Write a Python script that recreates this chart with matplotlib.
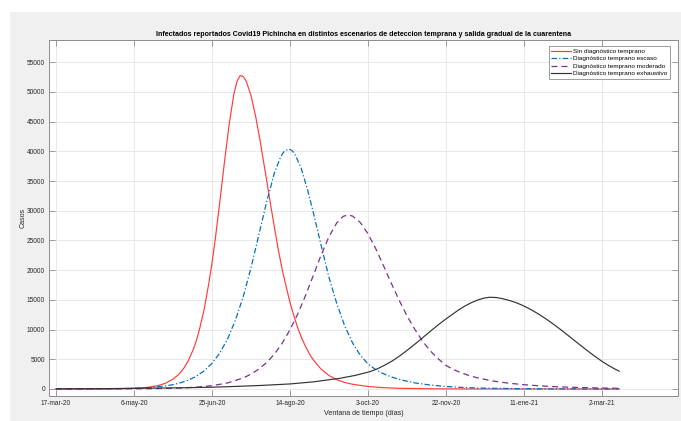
import matplotlib
matplotlib.use("Agg")
import matplotlib.pyplot as plt
from matplotlib.patches import Rectangle

# ---------------- data (days since 17-mar-20) ----------------
red_days = [0, 20, 40, 50, 55, 60, 65, 70, 75, 78, 80, 82, 85, 88, 90, 92, 95, 98, 100, 102, 105, 108, 111,
            114, 116, 118, 120, 122, 125, 128, 131, 135, 137.5, 140, 142.5, 145, 147.5, 150, 152.5, 155,
            157.5, 160, 162.5, 165, 170, 175, 180, 185, 190, 200, 210, 220, 240, 260, 300, 361]
red_vals = [0, 4, 34, 104, 182, 318, 554, 950, 1655, 2295, 2850, 3535, 4870, 6665, 8190, 10080, 13470, 17860,
            21250, 25050, 31500, 38240, 44600, 49630, 51790, 52760, 52610, 51780, 49380, 45850, 41520, 35140,
            31120, 27200, 23450, 20090, 17240, 14560, 12300, 10240, 8560, 7120, 5900, 4870, 3320, 2270, 1550,
            1110, 800, 420, 220, 120, 35, 10, 1, 0]

blue_days = [0, 40, 50, 60, 70, 75, 80, 85, 90, 95, 100, 105, 110, 115, 120, 125, 130, 135, 140, 144, 146,
             149, 151, 153, 157, 161, 165, 170, 175, 180, 185, 190, 195, 200, 205, 210, 215, 220, 225, 230,
             240, 250, 260, 270, 280, 300, 320, 340, 361]
blue_vals = [5, 58, 121, 250, 516, 730, 1056, 1507, 2155, 3063, 4330, 6060, 8440, 11590, 15540, 20420, 25930,
             31490, 36370, 39090, 39920, 40400, 40200, 39590, 37270, 33780, 29640, 24100, 18750, 14350, 10660,
             7790, 5700, 4200, 3250, 2550, 2030, 1620, 1300, 1030, 660, 420, 270, 170, 110, 45, 18, 8, 3]

purple_days = [0, 30, 60, 80, 90, 100, 110, 120, 125, 130, 135, 140, 145, 150, 155, 160, 165, 170, 175, 180,
               184, 187, 190, 195, 200, 205, 210, 215, 220, 225, 230, 235, 240, 245, 250, 255, 260, 265, 270,
               280, 290, 300, 310, 320, 330, 340, 350, 361]
purple_vals = [3, 12, 48, 166, 306, 557, 1020, 1850, 2500, 3350, 4450, 5860, 7710, 9990, 12650, 15780, 19160,
               22580, 25670, 27980, 29050, 29300, 29120, 28040, 26130, 23590, 20720, 17750, 14920, 12310,
               10040, 8040, 6390, 5090, 3960, 3250, 2700, 2250, 1880, 1350, 980, 720, 530, 390, 290, 210, 155,
               115]

black_days = [0, 40, 80, 100, 112, 130, 150, 165, 182, 192, 201, 206, 211, 216, 221, 226, 231, 236, 241, 246,
              250, 254, 258, 262, 266, 270, 274, 278, 282, 286, 290, 294, 298, 302, 306, 310, 314, 318, 322,
              326, 330, 334, 338, 342, 346, 350, 354, 358, 361]
black_vals = [20, 80, 200, 300, 400, 580, 850, 1200, 1800, 2300, 2900, 3400, 4050, 4800, 5700, 6700, 7750,
              8850, 9950, 11000, 11800, 12550, 13300, 13950, 14500, 14950, 15280, 15440, 15400, 15220, 14950,
              14620, 14200, 13700, 13130, 12500, 11810, 11070, 10290, 9480, 8650, 7810, 6980, 6170, 5390, 4650,
              3990, 3390, 3000]

series_labels = ["Sin diagnóstico temprano", "Diagnóstico temprano escaso",
                 "Diagnóstico temprano moderado", "Diagnóstico temprano exhaustivo"]

xtick_days = [0, 50, 100, 150, 200, 250, 300, 350]
xtick_labels = ["17-mar-20", "6-may-20", "25-jun-20", "14-ago-20", "3-oct-20",
                "22-nov-20", "11-ene-21", "2-mar-21"]
ytick_vals = [0, 5000, 10000, 15000, 20000, 25000, 30000, 35000, 40000, 45000, 50000, 55000]

title = ("Infectados reportados Covid19 Pichincha en distintos escenarios de deteccion "
         "temprana y salida gradual de la cuarentena")

# ---------------- figure ----------------
plt.rcParams["font.family"] = ["Liberation Sans", "DejaVu Sans"]
plt.rcParams["lines.scale_dashes"] = False

W, H = 681, 421
fig = plt.figure(figsize=(W / 100, H / 100), dpi=100, facecolor="white")
fig.patches.append(Rectangle((10 / W, 0), 1 - 10 / W, 1 - 12 / H, transform=fig.transFigure,
                             facecolor="#f0f0f0", edgecolor="none", zorder=-10))

left, right, top, bottom = 49.3 / W, 677.7 / W, 1 - 40 / H, 1 - 396 / H
ax = fig.add_axes([left, bottom, right - left, top - bottom])
ax.set_facecolor("white")

ax.plot(red_days, red_vals, color="#ff3b3b", lw=0.85, label=series_labels[0], zorder=3)
ax.plot(blue_days, blue_vals, color="#0072BD", lw=0.9, dashes=(4.0, 1.6, 0.9, 1.6),
        label=series_labels[1], zorder=3)
ax.plot(purple_days, purple_vals, color="#7E2F8E", lw=0.9, dashes=(4.3, 2.9),
        label=series_labels[2], zorder=3)
ax.plot(black_days, black_vals, color="#333333", lw=0.85, label=series_labels[3], zorder=3)

ax.set_xlim(-4.3, 398.5)
ax.set_ylim(-1180, 58750)
ax.set_xticks(xtick_days)
ax.set_xticklabels(xtick_labels)
ax.set_yticks(ytick_vals)
ax.set_yticklabels([str(v) for v in ytick_vals])

ax.grid(True, color="#e4e4e4", lw=0.6, zorder=0)
ax.set_axisbelow(True)
for s in ax.spines.values():
    s.set_color("#8c8c8c")
    s.set_linewidth(0.7)
ax.tick_params(axis="both", which="both", direction="in", length=4, width=0.6, color="#8c8c8c",
               top=True, right=True, labelsize=4.7, labelcolor="#262626", pad=3)

ax.set_title(title, fontsize=5.1, fontweight="bold", color="black", pad=3)
ax.set_xlabel("Ventana de tiempo (días)", fontsize=5.1, color="#262626", labelpad=2)
ax.set_ylabel("Casos", fontsize=5.1, color="#262626", labelpad=0.5)

leg_x = (670 - 49.3) / (677.7 - 49.3)
leg_y = (396 - 45.7) / (396 - 40)
leg = ax.legend(loc="upper right", bbox_to_anchor=(leg_x, leg_y), borderaxespad=0,
                fontsize=4.6, frameon=True, fancybox=False,
                edgecolor="#8c8c8c", facecolor="white", framealpha=1,
                handlelength=3.0, handletextpad=0.35, borderpad=0.45, labelspacing=0.3)
leg.get_frame().set_linewidth(0.6)

fig.savefig("out.png", dpi=100, facecolor=fig.get_facecolor())
